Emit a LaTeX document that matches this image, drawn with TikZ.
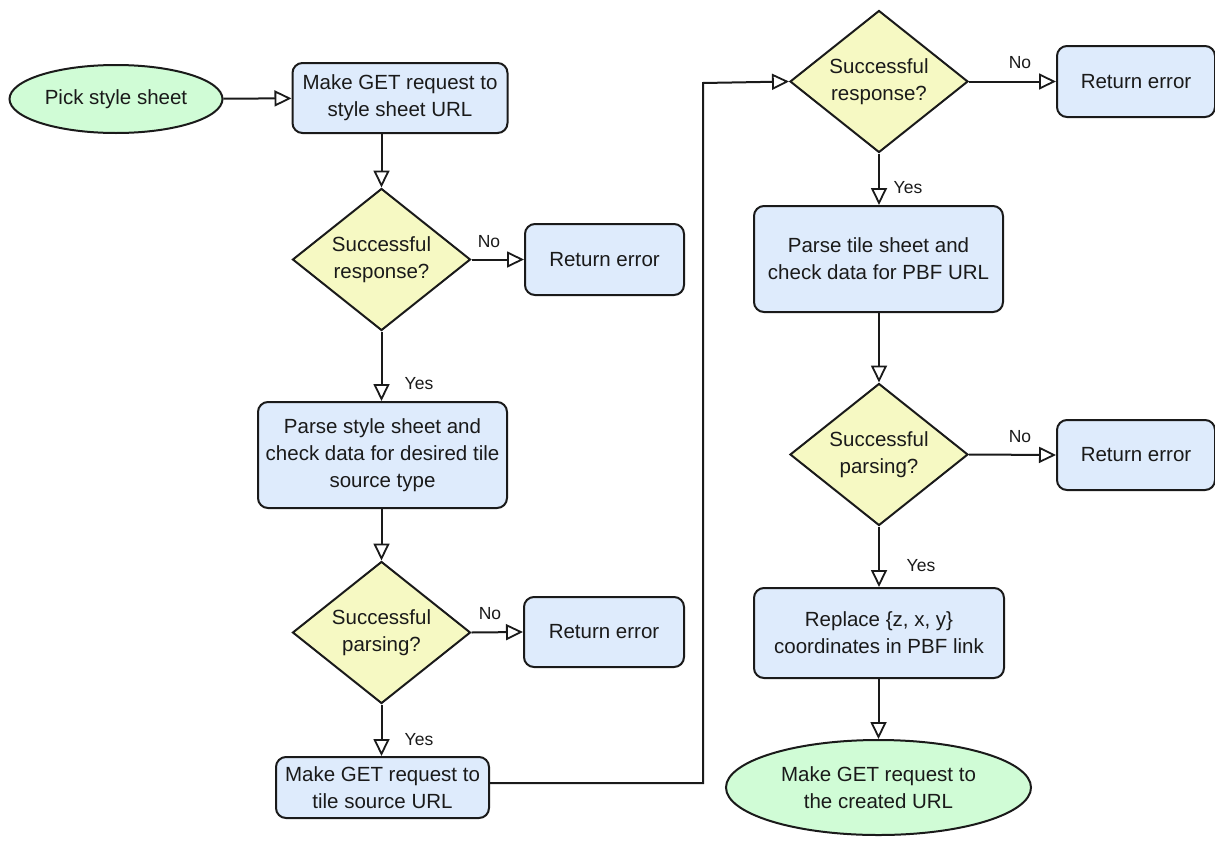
\documentclass[tikz,border=0pt]{standalone}
\usepackage{fontspec}
\setmainfont{Liberation Sans}
\usetikzlibrary{shapes.geometric,arrows.meta}
\definecolor{procfill}{HTML}{DEEBFC}
\definecolor{decfill}{HTML}{F6F9C3}
\definecolor{termfill}{HTML}{D0FCD6}
\definecolor{ink}{HTML}{1A1A1A}
\begin{document}
\begin{tikzpicture}[x=1pt,y=-1pt,
  every node/.style={text=ink},
  proc/.style={draw=ink,line width=2pt,fill=procfill,rounded corners=10pt,
    align=center,inner sep=0pt,font=\fontsize{20.5}{27}\selectfont},
  term/.style={draw=ink,line width=2pt,fill=termfill,ellipse,
    align=center,inner sep=0pt,font=\fontsize{20.5}{27}\selectfont},
  dec/.style={draw=ink,line width=2pt,fill=decfill,diamond,inner sep=0pt,
    minimum width=178pt,minimum height=142pt},
  dtext/.style={align=center,inner sep=0pt,font=\fontsize{20.5}{27}\selectfont},
  lbl/.style={inner sep=0pt,font=\fontsize{17.5}{20}\selectfont},
  arr/.style={draw=ink,line width=2pt,
    -{Triangle[fill=white,length=17pt,width=16pt,line width=1.8pt]}}]
\useasboundingbox (0,0) rectangle (1215,846);

% left column
\node[term,minimum width=213pt,minimum height=68pt] (start) at (116,99) {Pick style sheet};
\node[proc,minimum width=215pt,minimum height=70pt] (b1) at (400,98) {Make GET request to\\style sheet URL};
\node[dec,label={[dtext]center:{Successful\\response?}}] (d1) at (381.5,259.5) {};
\node[proc,minimum width=159pt,minimum height=71pt] (e1) at (604.5,259.5) {Return error};
\node[proc,minimum width=249pt,minimum height=106pt] (b2) at (382.5,455) {Parse style sheet and\\check data for desired tile\\source type};
\node[dec,label={[dtext]center:{Successful\\parsing?}}] (d2) at (381.5,632.5) {};
\node[proc,minimum width=160pt,minimum height=70pt] (e2) at (604,632) {Return error};
\node[proc,minimum width=213pt,minimum height=61pt] (b3) at (382.5,787.5) {Make GET request to\\tile source URL};

% right column
\node[dec,label={[dtext]center:{Successful\\response?}}] (d3) at (879,81.5) {};
\node[proc,minimum width=158pt,minimum height=71pt] (e3) at (1136,81.5) {Return error};
\node[proc,minimum width=249pt,minimum height=106pt] (b4) at (878.5,259) {Parse tile sheet and\\check data for PBF URL};
\node[dec,label={[dtext]center:{Successful\\parsing?}}] (d4) at (879,454.5) {};
\node[proc,minimum width=158pt,minimum height=70pt] (e4) at (1136,455) {Return error};
\node[proc,minimum width=250pt,minimum height=90pt] (b5) at (879,633) {Replace \{z, x, y\}\\coordinates in PBF link};
\node[term,minimum width=305pt,minimum height=95pt] (fin) at (878.5,787.5) {Make GET request to\\the created URL};

\coordinate (turn) at (703,83);

% connectors
\draw[arr] (start) -- (b1);
\draw[arr] (d1.north |- b1.south) -- (d1.north);
\draw[arr] (d1.east) -- (e1.west);
\draw[arr] (d1.south) -- (b2.north -| d1.south);
\draw[arr] (b2.south -| d2.north) -- (d2.north);
\draw[arr] (d2.east) -- (e2.west);
\draw[arr] (d2.south) -- (b3.north -| d2.south);
\draw[arr] (b3.east |- 0,783) -| (turn) -- (d3.west);
\draw[arr] (d3.east) -- (e3.west);
\draw[arr] (d3.south) -- (b4.north -| d3.south);
\draw[arr] (b4.south -| d4.north) -- (d4.north);
\draw[arr] (d4.east) -- (e4.west);
\draw[arr] (d4.south) -- (b5.north -| d4.south);
\draw[arr] (b5.south -| fin.north) -- (fin.north);

% branch labels
\node[lbl] (n1) at (489,242) {No};
\node[lbl] (y1) at (419,384) {Yes};
\node[lbl] (n2) at (490,614) {No};
\node[lbl] (y2) at (419,740) {Yes};
\node[lbl] (n3) at (1020,63) {No};
\node[lbl] (y3) at (908,188) {Yes};
\node[lbl] (n4) at (1020,437) {No};
\node[lbl] (y4) at (921,566) {Yes};
\end{tikzpicture}
\end{document}
